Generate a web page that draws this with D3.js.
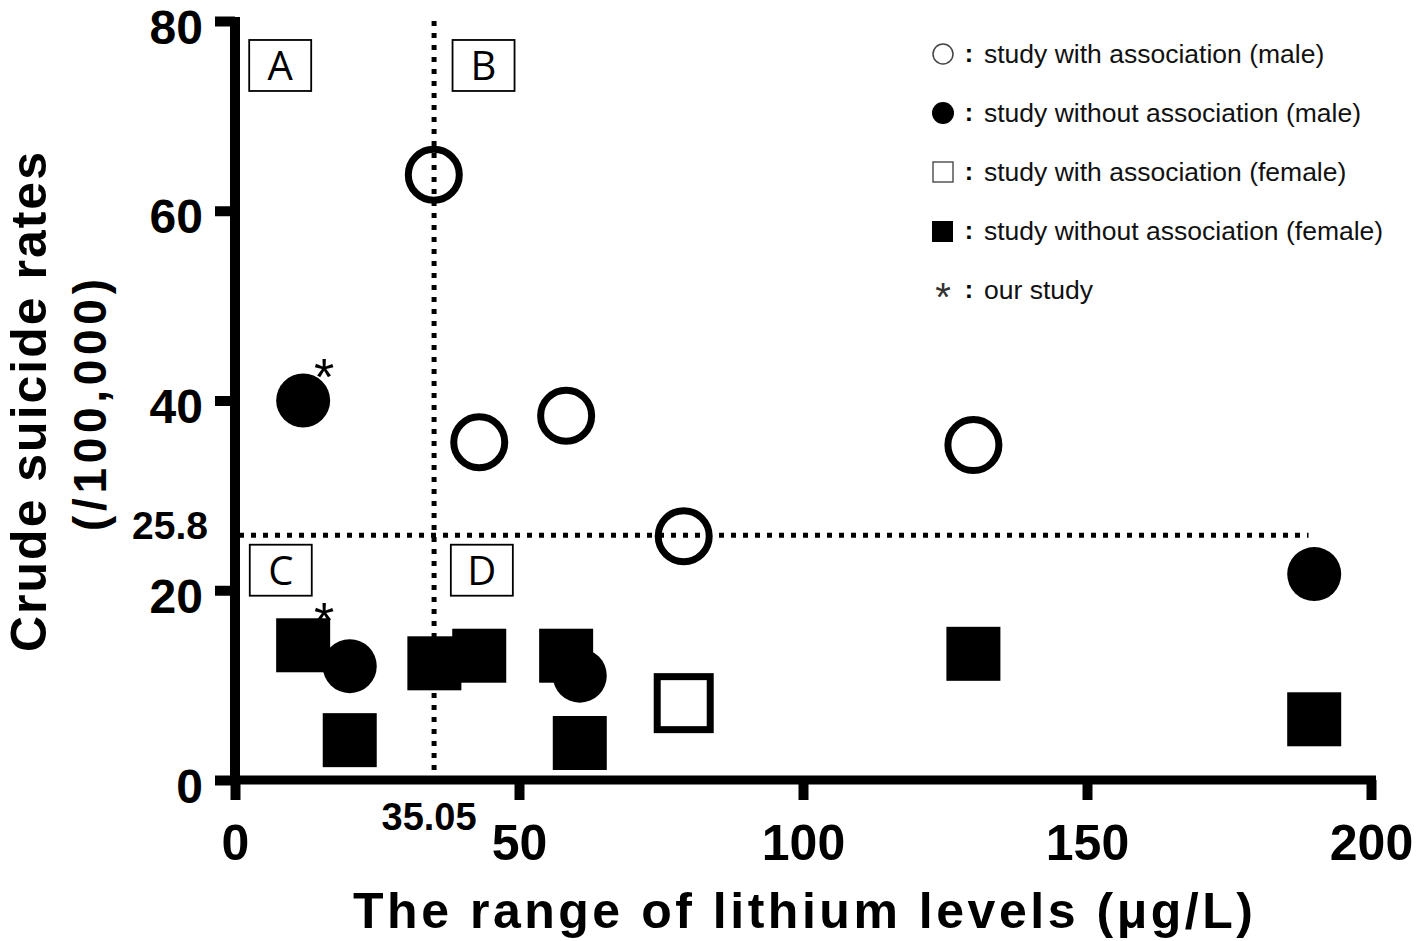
<!DOCTYPE html>
<html>
<head>
<meta charset="utf-8">
<script src="https://cdn.jsdelivr.net/npm/d3@7/dist/d3.min.js"></script>
<style>
  html, body { margin: 0; padding: 0; background: #fff; }
  svg { display: block; }
</style>
</head>
<body>
<script>
// ---- Data ----
const maleWithX = [35, 43, 58.3, 79, 130];
const maleWithY = [63.8, 35.6, 38.4, 25.7, 35.3];
const maleWithoutX = [12, 20.2, 60.7, 190];
const maleWithoutY = [40, 12, 11, 21.7];
const femaleWithX = [79];
const femaleWithY = [8.1];
const femaleWithoutX = [12, 20.2, 35.1, 43, 58.3, 60.7, 130, 190];
const femaleWithoutY = [14.2, 4.2, 12.3, 13.1, 13.1, 3.9, 13.3, 6.4];
const ourStudyX = [12, 12];
const ourStudyY = [40, 14.2];
const xTicks = [0, 50, 100, 150, 200];
const yTicks = [0, 20, 40, 60, 80];
const cutX = 35.05;
const cutY = 25.8;
const quadrantLabels = ["A", "B", "C", "D"];
const legendLabels = [
  "study with association (male)",
  "study without association (male)",
  "study with association (female)",
  "study without association (female)",
  "our study"
];

const W = 1418, H = 941;
const svg = d3.select("body").append("svg").attr("width", W).attr("height", H);
const font = "'Liberation Sans', Arial, Helvetica, sans-serif";

const x = d3.scaleLinear().domain([0, 200]).range([235, 1371]);
const y = d3.scaleLinear().domain([0, 80]).range([780, 21]);

// ---- Axes ----
const xAxis = d3.axisBottom(x).tickValues(xTicks).tickSize(20).tickSizeOuter(0).tickPadding(24);
const gx = svg.append("g").attr("transform", `translate(0,${y(0)})`).call(xAxis);
gx.select(".domain").remove();
gx.selectAll(".tick line").attr("stroke", "#000").attr("stroke-width", 10);
gx.selectAll(".tick text").attr("font-family", font).attr("font-weight", "bold")
  .attr("font-size", 50).attr("fill", "#000");

const yAxis = d3.axisLeft(y).tickValues(yTicks).tickSize(20).tickSizeOuter(0).tickPadding(12);
const gy = svg.append("g").attr("transform", `translate(${x(0)},0)`).call(yAxis);
gy.select(".domain").remove();
gy.selectAll(".tick line").attr("stroke", "#000").attr("stroke-width", 10);
gy.selectAll(".tick text").attr("font-family", font).attr("font-weight", "bold")
  .attr("font-size", 48).attr("fill", "#000").attr("dy", 0).attr("y", 22);

// axis lines
svg.append("line").attr("x1", x(0)).attr("x2", x(0)).attr("y1", y(80) - 4).attr("y2", y(0) + 4)
  .attr("stroke", "#000").attr("stroke-width", 10);
svg.append("line").attr("x1", x(0)).attr("x2", x(200) + 5).attr("y1", y(0)).attr("y2", y(0))
  .attr("stroke", "#000").attr("stroke-width", 9);

// ---- Cut-off lines ----
svg.append("line").attr("x1", x(cutX)).attr("x2", x(cutX)).attr("y1", y(80)).attr("y2", y(0))
  .attr("stroke", "#000").attr("stroke-width", 5).attr("stroke-dasharray", "5,7");
svg.append("line").attr("x1", x(0) + 4).attr("x2", x(189)).attr("y1", y(cutY)).attr("y2", y(cutY))
  .attr("stroke", "#000").attr("stroke-width", 5).attr("stroke-dasharray", "5,7");

svg.append("text").attr("x", x(cutX) - 5).attr("y", 830).attr("text-anchor", "middle")
  .attr("font-family", font).attr("font-weight", "bold").attr("font-size", 38)
  .text(String(cutX));
svg.append("text").attr("x", 208).attr("y", y(cutY) + 4).attr("text-anchor", "end")
  .attr("font-family", font).attr("font-weight", "bold").attr("font-size", 39)
  .text(String(cutY));

// ---- Quadrant label boxes ----
const boxPos = [
  [x(2.5), y(78)], [x(38.3), y(78)], [x(2.6), y(24.8)], [x(38.0), y(24.8)]
];
quadrantLabels.forEach((lab, i) => {
  const [bx, by] = boxPos[i];
  svg.append("rect").attr("x", bx).attr("y", by).attr("width", 62).attr("height", 51)
    .attr("fill", "#fff").attr("stroke", "#000").attr("stroke-width", 1.8);
  svg.append("text").attr("x", bx + 31).attr("y", by + 40).attr("text-anchor", "middle")
    .attr("font-family", "'Open Sans', 'DejaVu Sans', sans-serif").attr("font-size", 40).text(lab);
});

// ---- Markers ----
const sq = 54;
svg.append("g").selectAll("rect").data(femaleWithoutX.map((d, i) => [d, femaleWithoutY[i]]))
  .join("rect").attr("x", d => x(d[0]) - sq / 2).attr("y", d => y(d[1]) - sq / 2)
  .attr("width", sq).attr("height", sq).attr("fill", "#000");
svg.append("g").selectAll("circle").data(maleWithoutX.map((d, i) => [d, maleWithoutY[i]]))
  .join("circle").attr("cx", d => x(d[0])).attr("cy", d => y(d[1])).attr("r", 27).attr("fill", "#000");
svg.append("g").selectAll("rect").data(femaleWithX.map((d, i) => [d, femaleWithY[i]]))
  .join("rect").attr("x", d => x(d[0]) - 26.5).attr("y", d => y(d[1]) - 26.5)
  .attr("width", 53).attr("height", 53).attr("fill", "#fff").attr("stroke", "#000").attr("stroke-width", 7);
svg.append("g").selectAll("circle").data(maleWithX.map((d, i) => [d, maleWithY[i]]))
  .join("circle").attr("cx", d => x(d[0])).attr("cy", d => y(d[1])).attr("r", 25.5)
  .attr("fill", "none").attr("stroke", "#000").attr("stroke-width", 7);

// our study asterisks
svg.append("g").selectAll("text").data(ourStudyX.map((d, i) => [d, ourStudyY[i]]))
  .join("text").attr("x", d => x(d[0]) + 21).attr("y", d => y(d[1]) - 6)
  .attr("text-anchor", "middle")
  .attr("font-family", font).attr("font-size", 52).text("*");

// ---- Legend ----
const lx = 943, ly0 = 54, ldy = 59;
const lg = svg.append("g");
legendLabels.forEach((lab, i) => {
  const cy = ly0 + i * ldy;
  if (i === 0) lg.append("circle").attr("cx", lx).attr("cy", cy).attr("r", 10)
      .attr("fill", "#fff").attr("stroke", "#444").attr("stroke-width", 1.5);
  if (i === 1) lg.append("circle").attr("cx", lx).attr("cy", cy).attr("r", 11).attr("fill", "#000");
  if (i === 2) lg.append("rect").attr("x", lx - 10).attr("y", cy - 10).attr("width", 20).attr("height", 20)
      .attr("fill", "#fff").attr("stroke", "#555").attr("stroke-width", 1.5);
  if (i === 3) lg.append("rect").attr("x", lx - 11).attr("y", cy - 10).attr("width", 21).attr("height", 21)
      .attr("fill", "#000");
  if (i === 4) lg.append("text").attr("x", lx).attr("y", cy + 21).attr("text-anchor", "middle")
      .attr("font-family", font).attr("font-size", 40).attr("fill", "#333").text("*");
  lg.append("text").attr("x", 969).attr("y", cy + 8).attr("text-anchor", "middle")
    .attr("font-family", font).attr("font-weight", "bold").attr("font-size", 25).text(":");
  lg.append("text").attr("x", 984).attr("y", cy + 9)
    .attr("font-family", font).attr("font-size", 26.5).attr("fill", "#111").text(lab);
});

// ---- Axis titles ----
svg.append("text").attr("x", 803).attr("y", 928).attr("text-anchor", "middle")
  .attr("font-family", font).attr("font-weight", "bold").attr("font-size", 50)
  .attr("textLength", 900).attr("lengthAdjust", "spacing")
  .text("The range of lithium levels (μg/L)");
svg.append("text").attr("transform", "translate(46,402) rotate(-90)").attr("text-anchor", "middle")
  .attr("font-family", font).attr("font-weight", "bold").attr("font-size", 50)
  .attr("textLength", 500).attr("lengthAdjust", "spacing")
  .text("Crude suicide rates");
svg.append("text").attr("transform", "translate(106,405) rotate(-90)").attr("text-anchor", "middle")
  .attr("font-family", font).attr("font-weight", "bold").attr("font-size", 46)
  .attr("textLength", 252).attr("lengthAdjust", "spacing")
  .text("(/100,000)");
</script>
</body>
</html>
